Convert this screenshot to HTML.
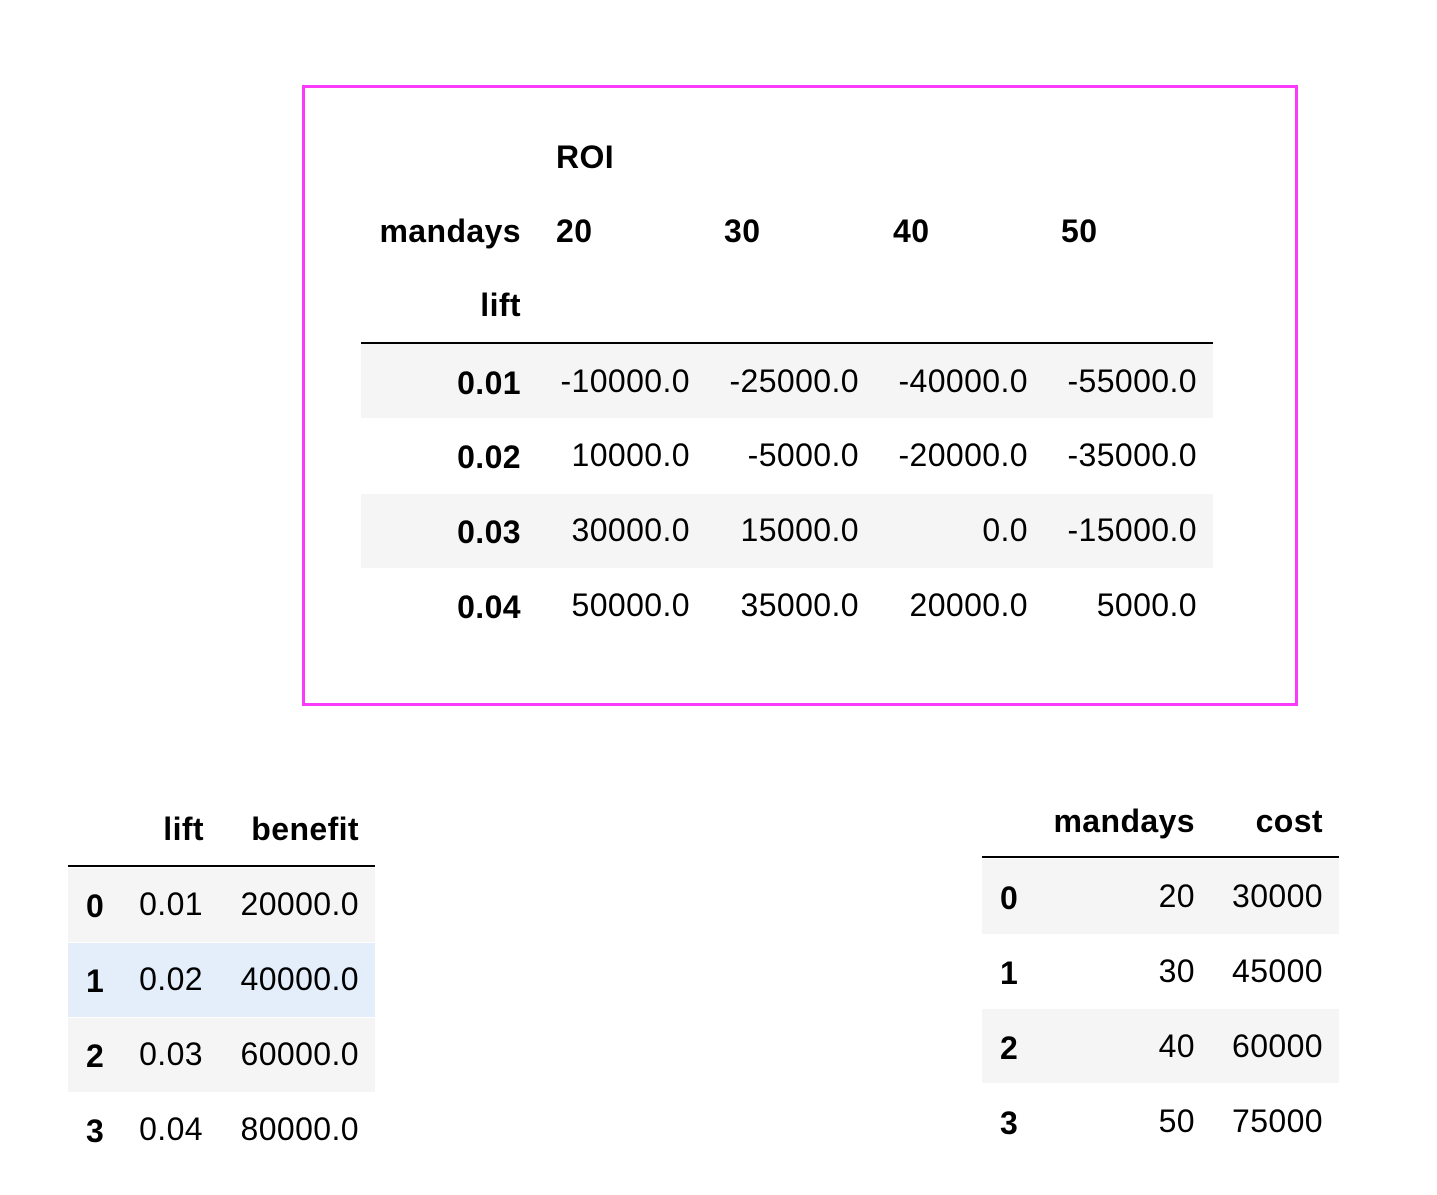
<!DOCTYPE html>
<html><head><meta charset="utf-8">
<style>
html,body{margin:0;padding:0;background:#fff;}
body{width:1437px;height:1195px;position:relative;overflow:hidden;font-family:"Liberation Sans",Arial,sans-serif;font-size:32px;letter-spacing:0.4px;color:#000;}
.t{position:absolute;height:40px;line-height:40px;white-space:nowrap;}
.b{font-weight:bold;}
.band{position:absolute;}
.line{position:absolute;height:2px;background:#000;}
</style></head><body>
<div style="position:absolute;left:302px;top:85px;width:990px;height:615px;border:3px solid #fa3cfa;"></div>
<script>
// ROI pivot table data
const roiCols = ["20","30","40","50"];
const roiRows = ["0.01","0.02","0.03","0.04"];
const roiVals = [
 ["-10000.0","-25000.0","-40000.0","-55000.0"],
 ["10000.0","-5000.0","-20000.0","-35000.0"],
 ["30000.0","15000.0","0.0","-15000.0"],
 ["50000.0","35000.0","20000.0","5000.0"]];
const liftIdx = ["0","1","2","3"];
const liftVals = ["0.01","0.02","0.03","0.04"];
const benefitVals = ["20000.0","40000.0","60000.0","80000.0"];
const mandaysVals = ["20","30","40","50"];
const costVals = ["30000","45000","60000","75000"];

const root = document.body;
function band(x,y,w,h,c,name){
  const d=document.createElement('div');d.className='band';
  d.style.cssText=`left:${x}px;top:${y}px;width:${w}px;height:${h}px;background:${c}`;
  
  
  root.appendChild(d);
}
function line(x,y,w,name){
  const d=document.createElement('div');d.className='line';
  d.style.cssText=`left:${x}px;top:${y}px;width:${w}px`;
  
  
  root.appendChild(d);
}
function txt(s,x,cy,align,bold,name){
  const d=document.createElement('div');
  d.className='t'+(bold?' b':'');
  d.textContent=s;
  if(align==='r'){d.style.right=(1437-x)+'px';d.style.textAlign='right';}
  else d.style.left=x+'px';
  d.style.top=(cy-20)+'px';
  
  
  root.appendChild(d);
}
band(361,344,852,74,'#f5f5f5','roi-row-band-0');
band(361,494,852,74,'#f5f5f5','roi-row-band-2');
line(361,342,852,'roi-header-rule');
txt('ROI',556,157,'l',true,'roi-title');
txt('mandays',521,231,'r',true,'mandays-header');
txt('lift',521,305,'r',true,'lift-header');
const colX=[556,724,893,1061], colR=[690,859,1028,1197], rowY=[381,455,530,605];
roiCols.forEach((c,i)=>txt(c,colX[i],231,'l',true,'roi-column-header'));
roiRows.forEach((r,j)=>{
  txt(r,521,rowY[j]+2,'r',true,'roi-row-label');
  roiVals[j].forEach((v,i)=>txt(v,colR[i],rowY[j],'r',false,'roi-cell'));
});
band(68,868,307,74,'#f5f5f5','benefit-row-band-0');
band(68,943,307,74,'#e3eefa','benefit-row-band-1-hover');
band(68,1018,307,74,'#f5f5f5','benefit-row-band-2');
line(68,865,307,'benefit-header-rule');
txt('lift',204,829,'r',true,'benefit-lift-header');
txt('benefit',359,829,'r',true,'benefit-header');
const by=[904,979,1054,1129];
liftIdx.forEach((k,j)=>{
  txt(k,86,by[j]+2,'l',true,'benefit-index');
  txt(liftVals[j],203,by[j],'r',false,'benefit-lift-cell');
  txt(benefitVals[j],359,by[j],'r',false,'benefit-cell');
});
band(982,859,357,75,'#f5f5f5','cost-row-band-0');
band(982,1009,357,74,'#f5f5f5','cost-row-band-2');
line(982,856,357,'cost-header-rule');
txt('mandays',1195,821,'r',true,'cost-mandays-header');
txt('cost',1323,821,'r',true,'cost-header');
const cy=[896,971,1046,1121];
liftIdx.forEach((k,j)=>{
  txt(k,1000,cy[j]+2,'l',true,'cost-index');
  txt(mandaysVals[j],1195,cy[j],'r',false,'cost-mandays-cell');
  txt(costVals[j],1323,cy[j],'r',false,'cost-cell');
});
</script>
</body></html>
